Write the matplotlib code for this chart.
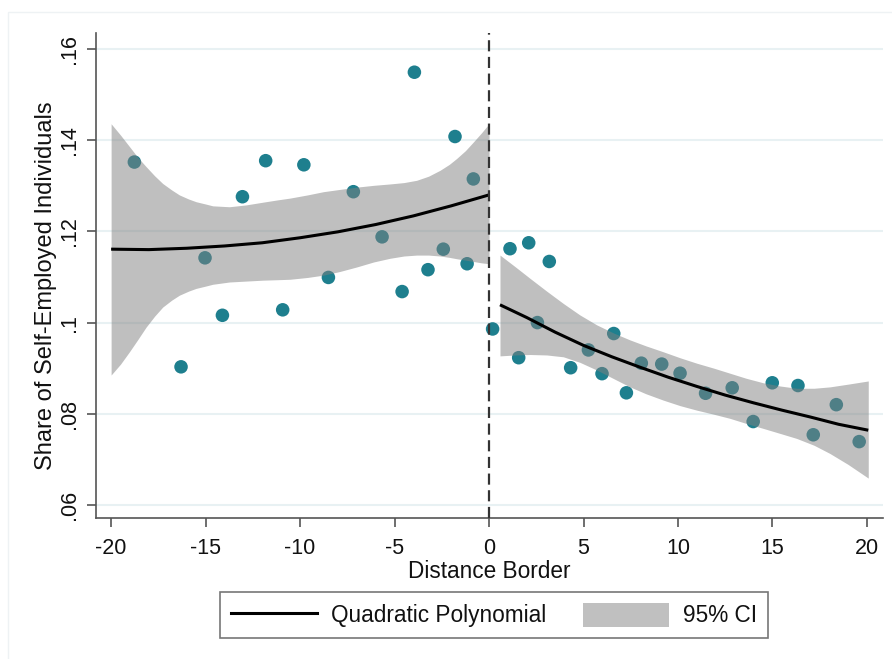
import matplotlib
matplotlib.use("Agg")
import matplotlib.pyplot as plt
from matplotlib.lines import Line2D
from matplotlib.patches import Patch, Rectangle

plt.rcParams['font.family'] = ['Liberation Sans', 'DejaVu Sans']

# Binned scatter, left of border
left_x = [-18.77, -16.30, -15.03, -14.11, -13.05, -11.82, -10.92, -9.80, -8.50,
          -7.18, -5.66, -4.60, -3.95, -3.23, -2.42, -1.80, -1.16, -0.83]
left_y = [0.1352, 0.0903, 0.1142, 0.1016, 0.1276, 0.1355, 0.1028, 0.1346, 0.1099,
          0.1287, 0.1188, 0.1068, 0.1549, 0.1116, 0.1161, 0.1408, 0.1129, 0.1315]

# Binned scatter, right of border
right_x = [0.19, 1.11, 1.57, 2.10, 2.56, 3.19, 4.32, 5.26, 5.98, 6.60, 7.27,
           8.06, 9.14, 10.11, 11.46, 12.87, 13.98, 14.99, 16.35, 17.16, 18.38, 19.59]
right_y = [0.0986, 0.1162, 0.0923, 0.1175, 0.1000, 0.1134, 0.0901, 0.0940, 0.0888,
           0.0976, 0.0846, 0.0911, 0.0909, 0.0889, 0.0845, 0.0857, 0.0783, 0.0868,
           0.0862, 0.0754, 0.0820, 0.0739]

# 95% CI band, left
band_lx = [-20.0, -19.5, -19.03, -18.6, -18.15, -17.7, -17.27, -16.8, -16.39, -15.9,
           -15.5, -15.0, -14.62, -13.74, -12.86, -11.97, -11.2, -10.53, -9.6, -8.77,
           -7.9, -7.0, -6.1, -5.24, -4.5, -3.83, -3.2, -2.59, -2.1, -1.71, -1.25,
           -0.83, -0.4, 0.0]
band_lhi = [0.1436, 0.1411, 0.1386, 0.1363, 0.1342, 0.1322, 0.1305, 0.1291, 0.1280,
            0.1271, 0.1265, 0.1260, 0.1256, 0.1254, 0.1258, 0.1264, 0.1269, 0.1273,
            0.1280, 0.1287, 0.1292, 0.1297, 0.1301, 0.1304, 0.1307, 0.1312, 0.1321,
            0.1334, 0.1347, 0.1360, 0.1377, 0.1396, 0.1416, 0.1436]
band_llo = [0.0885, 0.0909, 0.0936, 0.0962, 0.0990, 0.1014, 0.1034, 0.1049, 0.1060,
            0.1069, 0.1075, 0.1080, 0.1084, 0.1089, 0.1091, 0.1093, 0.1094, 0.1095,
            0.1099, 0.1104, 0.1112, 0.1122, 0.1133, 0.1141, 0.1146, 0.1148, 0.1148,
            0.1146, 0.1143, 0.1140, 0.1137, 0.1134, 0.1131, 0.1129]

# Quadratic fit, left
fit_lx = [-20, -18, -16, -14, -12, -10, -8, -6, -4, -2, 0]
fit_ly = [0.1161, 0.1160, 0.1163, 0.1168, 0.1175, 0.1186, 0.1199, 0.1215, 0.1234,
          0.1256, 0.1280]

# 95% CI band, right
band_rx = [0.58, 1.4, 2.17, 3.05, 3.93, 4.8, 5.70, 6.6, 7.46, 8.3, 9.22, 10.1, 10.99,
           11.9, 12.75, 13.6, 14.51, 15.4, 16.28, 17.2, 18.04, 19.0, 20.07]
band_rhi = [0.1148, 0.1122, 0.1097, 0.1069, 0.1042, 0.1017, 0.0995, 0.0977, 0.0962,
            0.0949, 0.0936, 0.0923, 0.0911, 0.0900, 0.0889, 0.0878, 0.0868, 0.0861,
            0.0856, 0.0856, 0.0859, 0.0865, 0.0872]
band_rlo = [0.0927, 0.0929, 0.0930, 0.0929, 0.0925, 0.0913, 0.0896, 0.0877, 0.0859,
            0.0844, 0.0830, 0.0818, 0.0808, 0.0799, 0.0790, 0.0779, 0.0768, 0.0757,
            0.0746, 0.0731, 0.0713, 0.0689, 0.0659]

# Quadratic fit, right
fit_rx = [0.58, 2.0, 3.5, 5.0, 6.5, 8.0, 9.5, 11.0, 12.5, 14.0, 15.5, 17.0, 18.5, 20.07]
fit_ry = [0.1039, 0.1011, 0.0979, 0.0950, 0.0925, 0.0902, 0.0880, 0.0860, 0.0841,
          0.0824, 0.0808, 0.0793, 0.0777, 0.0764]

yticks = [0.06, 0.08, 0.10, 0.12, 0.14, 0.16]
ytick_labels = ['.06', '.08', '.1', '.12', '.14', '.16']
xticks = [-20, -15, -10, -5, 0, 5, 10, 15, 20]

teal = '#1e7f8e'

fig = plt.figure(figsize=(8.92, 6.59), dpi=100)
ax = fig.add_axes([96/892, 1-518/659, (883-96)/892, (518-33)/659])

for y in yticks:
    ax.axhline(y, color='#e8f1f3', lw=1.5, zorder=0)

ax.scatter(left_x, left_y, s=95, color=teal, edgecolors='none', zorder=2)
ax.scatter(right_x, right_y, s=95, color=teal, edgecolors='none', zorder=2)

ax.fill_between(band_lx, band_llo, band_lhi, color='#808080', alpha=0.5, lw=0, zorder=3)
ax.fill_between(band_rx, band_rlo, band_rhi, color='#808080', alpha=0.5, lw=0, zorder=3)

ax.plot(fit_lx, fit_ly, color='black', lw=2.2, zorder=4, solid_capstyle='butt')
ax.plot(fit_rx, fit_ry, color='black', lw=2.2, zorder=4, solid_capstyle='butt')

ax.axvline(0, color='#333333', lw=1.6, ls=(0, (5, 2.5)), zorder=5)

ax.set_xlim(-20.8, 20.85)
ax.set_ylim(0.05715, 0.1635)
ax.set_xticks(xticks)
ax.set_xticklabels([str(t) for t in xticks])
ax.set_yticks(yticks)
ax.set_yticklabels(ytick_labels, rotation=90, va='center')

for s in ['top', 'right']:
    ax.spines[s].set_visible(False)
for s in ['left', 'bottom']:
    ax.spines[s].set_color('#555555')
    ax.spines[s].set_linewidth(1.2)
ax.tick_params(axis='both', colors='#555555', length=6.5, width=1.2, labelsize=15.5,
               labelcolor='#111111')
ax.tick_params(axis='x', pad=8)
ax.tick_params(axis='y', pad=5)

ax.set_xlabel('Distance Border', fontsize=16.3, color='#111111')
ax.xaxis.set_label_coords(0.5, (518-560)/485)
ax.set_ylabel('Share of Self-Employed Individuals', fontsize=17, color='#111111')
ax.yaxis.set_label_coords((46-96)/787, (518-286)/485)
ax.yaxis.label.set_va('center')

handles = [Line2D([0], [0], color='black', lw=2.2),
           Patch(facecolor='#c0c0c0', edgecolor='none')]
leg = fig.legend(handles, ['Quadratic Polynomial', '95% CI'], ncol=2,
                 loc='center', bbox_to_anchor=(494/892, 1-615/659),
                 fontsize=16.3, frameon=True, fancybox=False, edgecolor='#555555',
                 handlelength=3.8, handleheight=1.3, columnspacing=1.6,
                 handletextpad=0.65, borderpad=0.45, borderaxespad=0)
leg.get_frame().set_linewidth(1.2)
for t in leg.get_texts():
    t.set_color('#111111')

# faint outer graph-region frame
fig.patches.append(Rectangle((8/892, -0.1), 1.2, 1 - 12/659 + 0.1,
                             transform=fig.transFigure, fill=False,
                             edgecolor='#eef2f4', lw=1))

fig.savefig('out.png', dpi=100)
